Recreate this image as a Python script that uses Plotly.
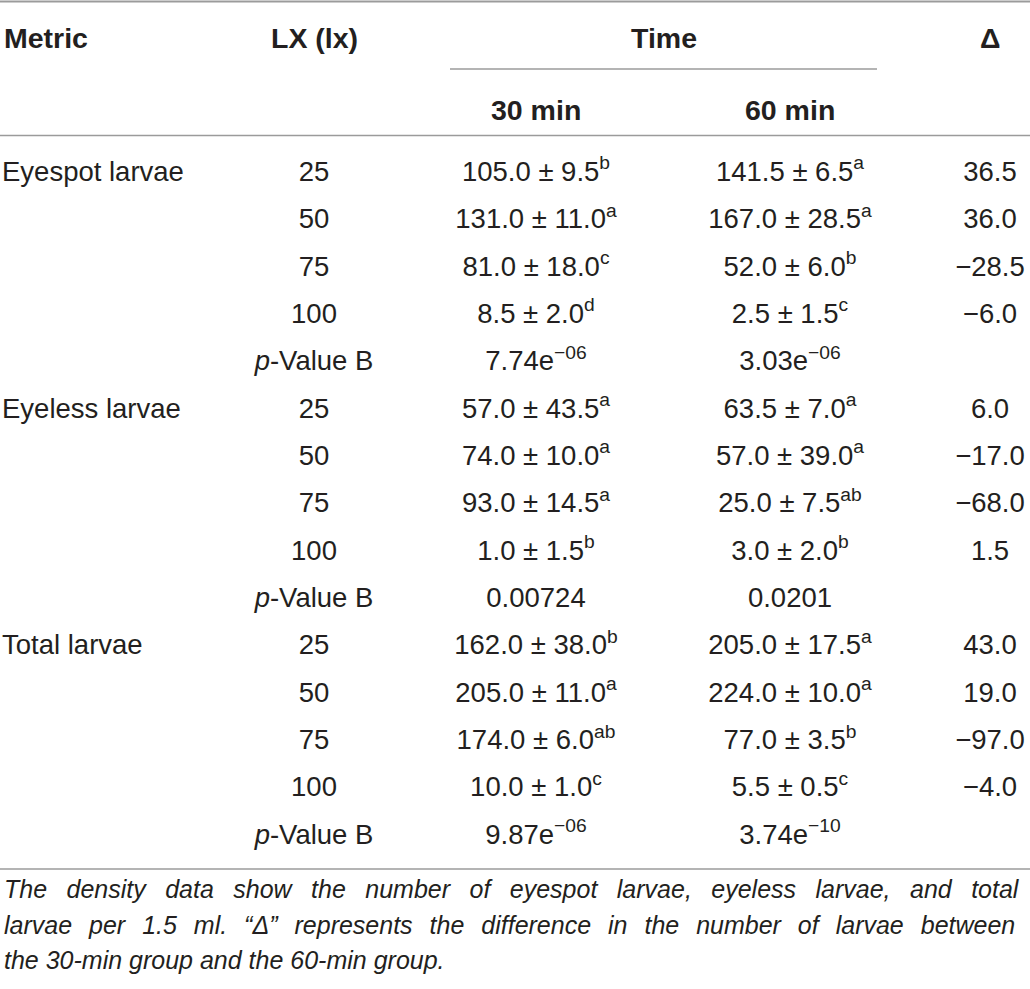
import plotly.graph_objects as go

# ---------------- data ----------------
metric_groups = ["Eyespot larvae", "Eyeless larvae", "Total larvae"]
lx_levels = ["25", "50", "75", "100"]

mean_30 = [[105.0, 131.0, 81.0, 8.5], [57.0, 74.0, 93.0, 1.0], [162.0, 205.0, 174.0, 10.0]]
sd_30 = [[9.5, 11.0, 18.0, 2.0], [43.5, 10.0, 14.5, 1.5], [38.0, 11.0, 6.0, 1.0]]
let_30 = [["b", "a", "c", "d"], ["a", "a", "a", "b"], ["b", "a", "ab", "c"]]
p_30 = ["7.74e<sup>\u221206</sup>", "0.00724", "9.87e<sup>\u221206</sup>"]

mean_60 = [[141.5, 167.0, 52.0, 2.5], [63.5, 57.0, 25.0, 3.0], [205.0, 224.0, 77.0, 5.5]]
sd_60 = [[6.5, 28.5, 6.0, 1.5], [7.0, 39.0, 7.5, 2.0], [17.5, 10.0, 3.5, 0.5]]
let_60 = [["a", "a", "b", "c"], ["a", "a", "ab", "b"], ["a", "a", "b", "c"]]
p_60 = ["3.03e<sup>\u221206</sup>", "0.0201", "3.74e<sup>\u221210</sup>"]

delta = [[36.5, 36.0, -28.5, -6.0], [6.0, -17.0, -68.0, 1.5], [43.0, 19.0, -97.0, -4.0]]

header_cols = ["Metric", "LX (lx)", "Time", "\u0394"]
time_cols = ["30 min", "60 min"]
caption_lines = [
    "The density data show the number of eyespot larvae, eyeless larvae, and total",
    "larvae per 1.5 ml. \u201c\u0394\u201d represents the difference in the number of larvae between",
    "the 30-min group and the 60-min group.",
]

# ---------------- layout constants ----------------
W, H = 1030, 989
X_METRIC, X_LX, X_30, X_60, X_D, X_TIME = 2, 314, 536, 790, 990, 664
ROW0, ROW_STEP = 174, 47.35
TXT = "#231f20"
LINE = "#9b9b9b"
FONT = "Liberation Sans"
FS = 27.5
FS_HEAD = 28.5
FS_CAP = 25
# extra gap characters used to justify the first two caption lines
CAP_GAP = [" \u2002", " \u2009\u2009", " "]


def fmt(v):
    s = f"{abs(v):.1f}"
    return ("\u2212" + s) if v < 0 else s


def cell(m, s, l):
    return f"{m:.1f} \u00b1 {s:.1f}<sup>{l}</sup>"


left_x, left_y, left_t = [], [], []
cen_x, cen_y, cen_t = [], [], []
row = 0
for g, name in enumerate(metric_groups):
    y0 = ROW0 + row * ROW_STEP
    left_x.append(X_METRIC); left_y.append(y0); left_t.append(name)
    for i, lx in enumerate(lx_levels):
        y = ROW0 + row * ROW_STEP
        cen_x += [X_LX, X_30, X_60, X_D]
        cen_y += [y] * 4
        cen_t += [lx, cell(mean_30[g][i], sd_30[g][i], let_30[g][i]),
                  cell(mean_60[g][i], sd_60[g][i], let_60[g][i]), fmt(delta[g][i])]
        row += 1
    y = ROW0 + row * ROW_STEP
    cen_x += [X_LX, X_30, X_60]
    cen_y += [y] * 3
    cen_t += ["<i>p</i>-Value B", p_30[g], p_60[g]]
    row += 1

fig = go.Figure()
fig.add_trace(go.Scatter(x=left_x, y=left_y, text=left_t, mode="text",
                         textposition="middle right", hoverinfo="skip",
                         textfont=dict(family=FONT, size=FS, color=TXT)))
fig.add_trace(go.Scatter(x=cen_x, y=cen_y, text=cen_t, mode="text",
                         textposition="middle center", hoverinfo="skip",
                         textfont=dict(family=FONT, size=FS, color=TXT)))

# headers
hx = [X_METRIC, X_LX, X_TIME, X_D]
for i, h in enumerate(header_cols):
    fig.add_annotation(x=hx[i], y=38, text=f"<b>{h}</b>", showarrow=False,
                       xanchor="left" if i == 0 else "center", yanchor="middle",
                       font=dict(family=FONT, size=FS_HEAD, color=TXT))
for x, h in zip([X_30, X_60], time_cols):
    fig.add_annotation(x=x, y=110, text=f"<b>{h}</b>", showarrow=False,
                       xanchor="center", yanchor="middle",
                       font=dict(family=FONT, size=FS_HEAD, color=TXT))

# caption
for i, line in enumerate(caption_lines):
    txt = CAP_GAP[i].join(line.split(" "))
    fig.add_annotation(x=2, y=889 + i * 35.5, text=f"<i>{txt}</i>", showarrow=False,
                       xanchor="left", yanchor="middle",
                       font=dict(family=FONT, size=FS_CAP, color=TXT))

# rules
for (x0, x1, y, w) in [(0, W, 1.5, 2), (450, 877, 69, 1.5), (0, W, 135.5, 1.5), (0, W, 869, 1.5)]:
    fig.add_shape(type="line", x0=x0, x1=x1, y0=y, y1=y, line=dict(color=LINE, width=w))

fig.update_layout(
    width=W, height=H, margin=dict(l=0, r=0, t=0, b=0),
    paper_bgcolor="white", plot_bgcolor="white", showlegend=False,
    xaxis=dict(range=[0, W], visible=False, fixedrange=True),
    yaxis=dict(range=[H, 0], visible=False, fixedrange=True),
)
fig.write_html("out.html", config={"displayModeBar": False},
               post_script="document.body.style.margin='0';document.body.style.overflow='hidden';")
